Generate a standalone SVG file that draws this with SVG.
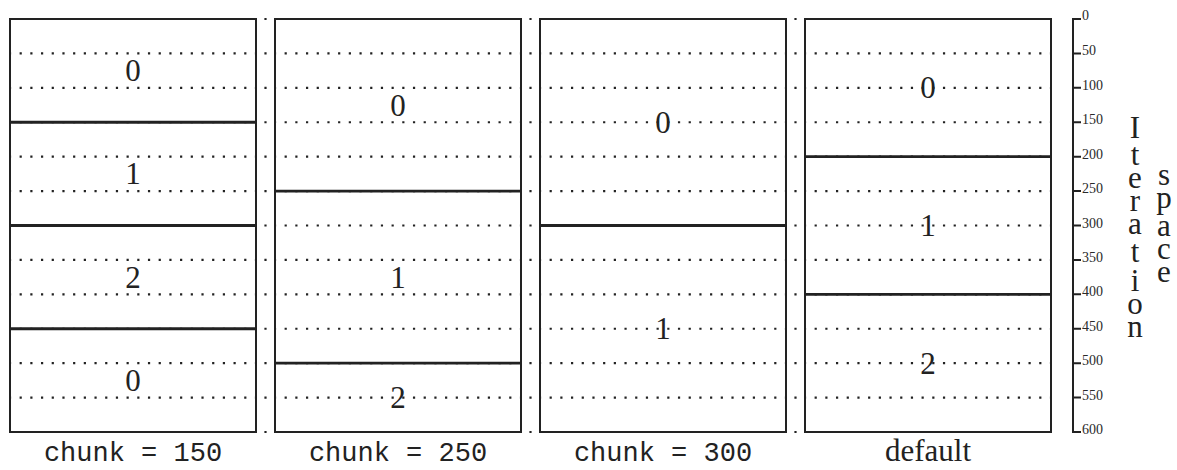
<svg xmlns="http://www.w3.org/2000/svg" width="1177" height="470" viewBox="0 0 1177 470">
<defs>
<style>
.dots{fill:none;stroke:#222;stroke-width:2.2;stroke-dasharray:2.2 8.496;stroke-dashoffset:1.1}
.gap{fill:none;stroke:#222;stroke-width:2.2;stroke-dasharray:2.2 32.2167}
.frame{fill:none;stroke:#222;stroke-width:2}
.div{fill:none;stroke:#222;stroke-width:2.8}
.num{font-family:"Liberation Serif",serif;font-size:31px;fill:#222;text-anchor:middle}
.cap{font-family:"Liberation Mono",monospace;font-size:27px;fill:#222;text-anchor:middle}
.capr{font-family:"Liberation Serif",serif;font-size:31px;fill:#222;text-anchor:middle}
.tick{font-family:"Liberation Serif",serif;font-size:14px;fill:#2a2a2a}
.axis{fill:none;stroke:#222;stroke-width:2}
</style>
<path id="rows" class="dots" d="M0 53.42h246M0 87.83h246M0 122.25h246M0 156.67h246M0 191.08h246M0 225.5h246M0 259.92h246M0 294.33h246M0 328.75h246M0 363.17h246M0 397.58h246"/>
</defs>
<g id="gap-dots">
<path class="gap" d="M265.5 17.9V434M530.5 17.9V434M795.5 17.9V434"/>
</g>
<g id="panel-chunk-150">
<use href="#rows" x="10"/>
<rect class="frame" x="10" y="19" width="246" height="413"/>
<path class="div" d="M10 122.25h246M10 225.5h246M10 328.75h246"/>
<text class="num" x="133" y="81.1">0</text>
<text class="num" x="133" y="184.4">1</text>
<text class="num" x="133" y="287.6">2</text>
<text class="num" x="133" y="390.9">0</text>
<text class="cap" x="133" y="461">chunk = 150</text>
</g>
<g id="panel-chunk-250">
<use href="#rows" x="275"/>
<rect class="frame" x="275" y="19" width="246" height="413"/>
<path class="div" d="M275 191.08h246M275 363.17h246"/>
<text class="num" x="398" y="115.5">0</text>
<text class="num" x="398" y="287.6">1</text>
<text class="num" x="398" y="408.1">2</text>
<text class="cap" x="398" y="461">chunk = 250</text>
</g>
<g id="panel-chunk-300">
<use href="#rows" x="540"/>
<rect class="frame" x="540" y="19" width="246" height="413"/>
<path class="div" d="M540 225.5h246"/>
<text class="num" x="663" y="132.75">0</text>
<text class="num" x="663" y="339.25">1</text>
<text class="cap" x="663" y="461">chunk = 300</text>
</g>
<g id="panel-default">
<use href="#rows" x="805"/>
<rect class="frame" x="805" y="19" width="246" height="413"/>
<path class="div" d="M805 156.67h246M805 294.33h246"/>
<text class="num" x="928" y="98.3">0</text>
<text class="num" x="928" y="236">1</text>
<text class="num" x="928" y="373.7">2</text>
<text class="capr" x="928" y="461">default</text>
</g>
<g id="axis">
<path class="axis" d="M1073 18V433M1073 19h8M1073 53.42h8M1073 87.83h8M1073 122.25h8M1073 156.67h8M1073 191.08h8M1073 225.5h8M1073 259.92h8M1073 294.33h8M1073 328.75h8M1073 363.17h8M1073 397.58h8M1073 432h8"/>
<text class="tick" x="1082" y="20">0</text>
<text class="tick" x="1082" y="55.4">50</text>
<text class="tick" x="1082" y="89.8">100</text>
<text class="tick" x="1082" y="124.2">150</text>
<text class="tick" x="1082" y="158.7">200</text>
<text class="tick" x="1082" y="193.1">250</text>
<text class="tick" x="1082" y="227.5">300</text>
<text class="tick" x="1082" y="261.9">350</text>
<text class="tick" x="1082" y="296.3">400</text>
<text class="tick" x="1082" y="330.7">450</text>
<text class="tick" x="1082" y="365.2">500</text>
<text class="tick" x="1082" y="399.6">550</text>
<text class="tick" x="1082" y="434">600</text>
</g>
<g id="axis-title">
<text class="capr"><tspan x="1135" y="138">I</tspan><tspan x="1135" y="165.4">t</tspan><tspan x="1135" y="188.1">e</tspan><tspan x="1135" y="210.8">r</tspan><tspan x="1135" y="233.5">a</tspan><tspan x="1135" y="261.9">t</tspan><tspan x="1135" y="291.4">i</tspan><tspan x="1135" y="314.1">o</tspan><tspan x="1135" y="336.8">n</tspan></text>
<text class="capr"><tspan x="1164" y="184.8">s</tspan><tspan x="1164" y="207.5">p</tspan><tspan x="1164" y="236.2">a</tspan><tspan x="1164" y="258.9">c</tspan><tspan x="1164" y="281.6">e</tspan></text>
</g>
</svg>
